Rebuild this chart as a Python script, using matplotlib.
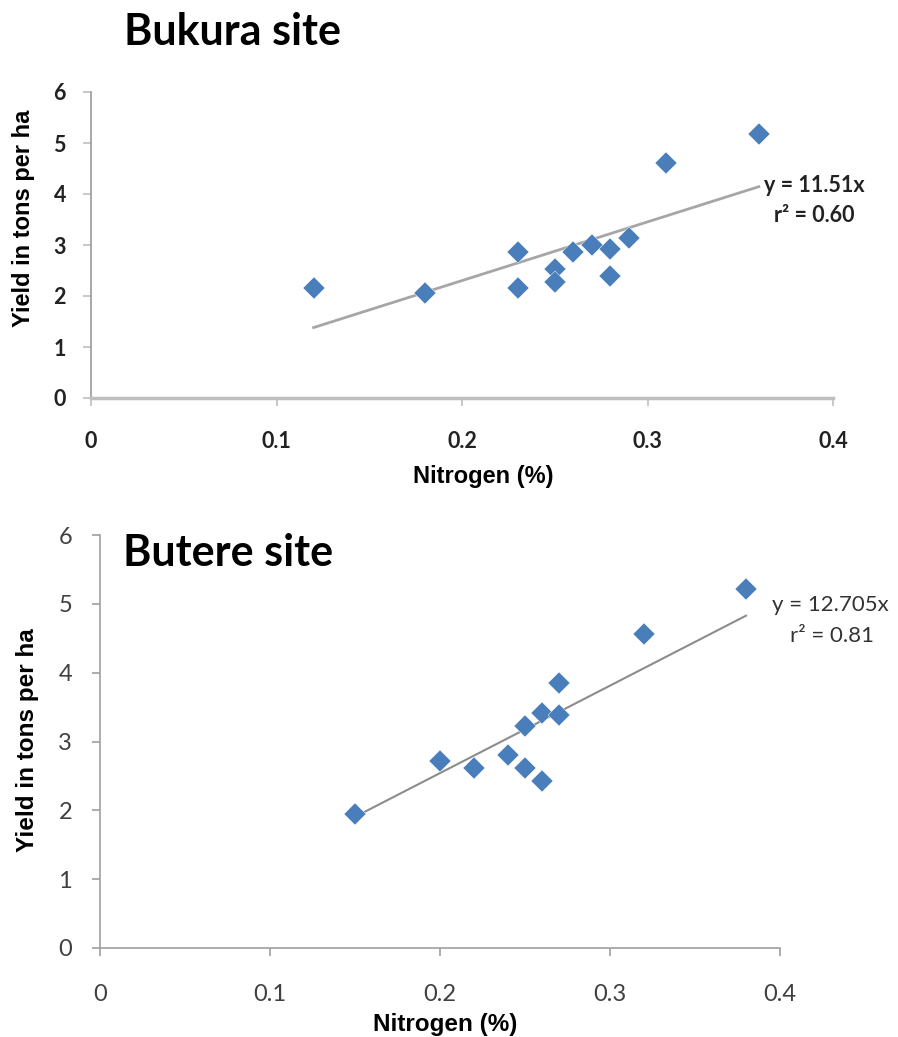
import matplotlib
matplotlib.use("Agg")
import matplotlib.pyplot as plt
import numpy as np

# Bukura site
bukura_n = [0.12, 0.18, 0.23, 0.23, 0.25, 0.25, 0.26, 0.27, 0.28, 0.28, 0.29, 0.31, 0.36]
bukura_yield = [2.16, 2.05, 2.87, 2.16, 2.52, 2.28, 2.87, 3.00, 2.92, 2.39, 3.13, 4.60, 5.17]
bukura_slope = 11.51

# Butere site
butere_n = [0.15, 0.20, 0.22, 0.24, 0.25, 0.25, 0.26, 0.26, 0.27, 0.27, 0.32, 0.38]
butere_yield = [1.95, 2.72, 2.61, 2.81, 3.22, 2.61, 3.41, 2.43, 3.85, 3.38, 4.56, 5.22]
butere_slope = 12.705

x_ticks = [0, 0.1, 0.2, 0.3, 0.4]
x_labels = ["0", "0.1", "0.2", "0.3", "0.4"]
y_ticks = [0, 1, 2, 3, 4, 5, 6]

W, H = 898, 1037
BLUE = "#4A7EBB"
CAL = ["Lato", "DejaVu Sans"]
ARIAL = ["Liberation Sans", "DejaVu Sans"]


def px(x, y):
    return x / W, 1 - y / H


fig = plt.figure(figsize=(W / 100, H / 100), dpi=100)

# ---- top panel ----
ax1 = fig.add_axes([91 / W, 1 - 398 / H, (833 - 91) / W, (398 - 92) / H])
ax1.plot(bukura_n, bukura_yield, "D", color=BLUE, ms=11, mec="white", mew=0.3, zorder=3)
xs = np.array([min(bukura_n), max(bukura_n)])
ax1.plot(xs, bukura_slope * xs, color="#A6A6A6", lw=2, zorder=2)
ax1.set_xlim(0, 0.4)
ax1.set_ylim(0, 6)
ax1.set_xticks(x_ticks)
ax1.set_xticklabels(x_labels)
ax1.set_yticks(y_ticks)
for s in ["top", "right"]:
    ax1.spines[s].set_visible(False)
ax1.spines["left"].set_color("#999999")
ax1.spines["left"].set_linewidth(1.2)
ax1.spines["bottom"].set_color("#BFBFBF")
ax1.spines["bottom"].set_linewidth(2.5)
ax1.tick_params(axis="x", length=6, width=1.2, color="#BFBFBF", pad=18)
ax1.tick_params(axis="y", length=6, width=1.2, color="#BFBFBF", pad=12)
for lab in ax1.get_xticklabels() + ax1.get_yticklabels():
    lab.set_family(CAL)
    lab.set_fontweight("bold")
    lab.set_fontsize(15.5)
    lab.set_color("#222222")

fig.text(*px(124, 32), "Bukura site", family=CAL, fontweight="bold", fontsize=31,
         ha="left", va="center")
fig.text(*px(814, 186), "y = 11.51x", family=CAL, fontweight="bold", fontsize=15.5,
         ha="center", va="center", color="#222222")
fig.text(*px(814, 216), "r² = 0.60", family=CAL, fontweight="bold", fontsize=15.5,
         ha="center", va="center", color="#222222")
fig.text(*px(24, 218), "Yield in tons per ha", family=ARIAL, fontweight="bold",
         fontsize=17, rotation=90, ha="center", va="center")
fig.text(*px(483, 476), "Nitrogen (%)", family=ARIAL, fontweight="bold",
         fontsize=17, ha="center", va="center")

# ---- bottom panel ----
ax2 = fig.add_axes([100 / W, 1 - 948 / H, (780 - 100) / W, (948 - 535) / H])
ax2.plot(butere_n, butere_yield, "D", color=BLUE, ms=11, mec="white", mew=0.3, zorder=3)
xs = np.array([min(butere_n), max(butere_n)])
ax2.plot(xs, butere_slope * xs, color="#8C8C8C", lw=1.5, zorder=2)
ax2.set_xlim(0, 0.4)
ax2.set_ylim(0, 6)
ax2.set_xticks(x_ticks)
ax2.set_xticklabels(x_labels)
ax2.set_yticks(y_ticks)
for s in ["top", "right"]:
    ax2.spines[s].set_visible(False)
for s in ["left", "bottom"]:
    ax2.spines[s].set_color("#A0A0A0")
    ax2.spines[s].set_linewidth(1.2)
ax2.tick_params(axis="x", length=6, width=1.2, color="#A0A0A0", pad=20)
ax2.tick_params(axis="y", length=6, width=1.2, color="#A0A0A0", pad=14)
for lab in ax2.get_xticklabels() + ax2.get_yticklabels():
    lab.set_family(CAL)
    lab.set_fontsize(17)
    lab.set_color("#404040")

fig.text(*px(123, 553), "Butere site", family=CAL, fontweight="bold", fontsize=31,
         ha="left", va="center")
fig.text(*px(830, 605), "y = 12.705x", family=CAL, fontsize=16,
         ha="center", va="center", color="#333333")
fig.text(*px(832, 636), "r² = 0.81", family=CAL, fontsize=16,
         ha="center", va="center", color="#333333")
fig.text(*px(28, 740), "Yield in tons per ha", family=ARIAL, fontweight="bold",
         fontsize=17.5, rotation=90, ha="center", va="center")
fig.text(*px(445, 1024), "Nitrogen (%)", family=ARIAL, fontweight="bold",
         fontsize=17.5, ha="center", va="center")

fig.savefig("out.png", dpi=100)
